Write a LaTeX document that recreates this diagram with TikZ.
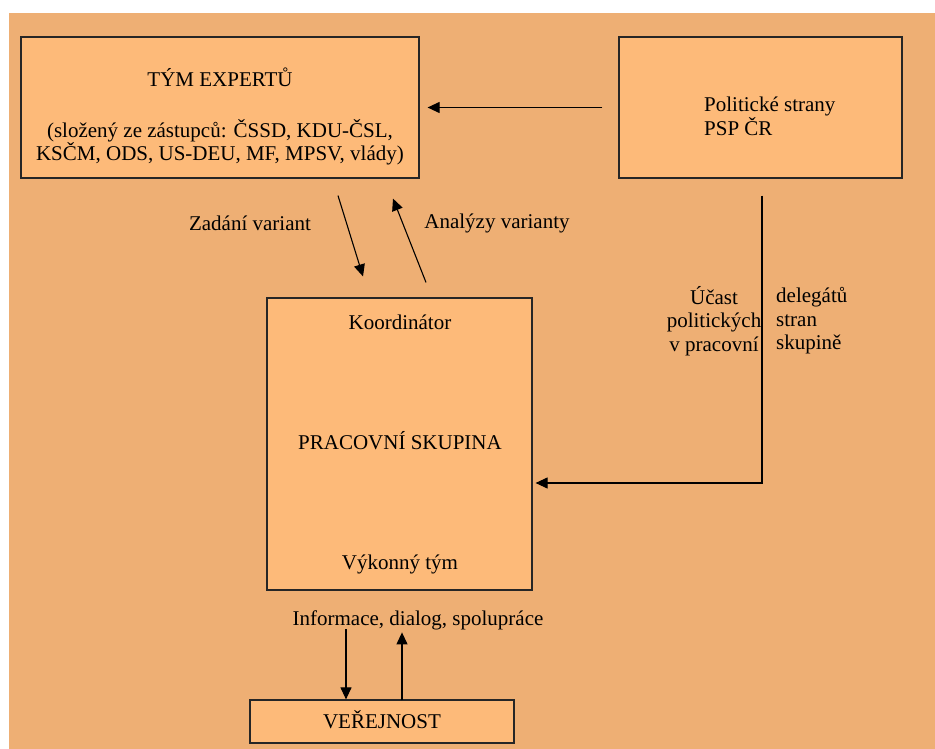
\documentclass[tikz,border=0pt]{standalone}
\usepackage{fontspec}
\setmainfont{Liberation Serif}
\usepackage{tikz}
\usetikzlibrary{positioning,arrows.meta,calc}
\definecolor{bgtan}{RGB}{238,175,116}
\definecolor{boxtan}{RGB}{253,186,121}

\begin{document}
\begin{tikzpicture}[x=1pt,y=-1pt,
    box/.style={draw=black!85, line width=1.2pt, fill=boxtan, inner sep=0pt},
    txt/.style={font=\fontsize{21}{23.5}\selectfont, inner sep=0pt},
    arr/.style={-{Triangle[length=12pt,width=11pt]}, line width=1.1pt}]
    \useasboundingbox (0,0) rectangle (935,749);
    \fill[bgtan] (9,13) rectangle (935,749);

    % boxes
    \node[box, minimum width=398pt, minimum height=141pt] (tym) at (220,107.5) {};
    \node[box, minimum width=283pt, minimum height=141pt] (pol) at (760.5,107.5) {};
    \node[box, minimum width=265pt, minimum height=292pt] (prac) at (399.5,444) {};
    \node[box, minimum width=264pt, minimum height=43pt] (vej) at (382,721.5) {};

    % texts in the boxes
    \node[txt, align=center] (tymtxt) at (220,116.5)
        {TÝM EXPERTŮ\\[27pt](složený ze zástupců: ČSSD, KDU-ČSL,\\KSČM, ODS, US-DEU, MF, MPSV, vlády)};
    \node[txt, align=left, anchor=west] (poltxt) at (704,116.5) {Politické strany\\PSP ČR};
    \foreach \nm/\y/\val in {koord/322/Koordinátor, pracsk/441/PRACOVNÍ SKUPINA, vykon/564/Výkonný tým}
        \node[txt] (\nm) at (400,\y) {\val};
    \node[txt] (vejtxt) at (382,720) {VEŘEJNOST};

    % labels
    \node[txt] (zadani) at (250,223) {Zadání variant};
    \node[txt] (analyzy) at (497,223) {Analýzy varianty};
    \node[txt, align=center] (ucast) at (714,321) {Účast\\politických\\v pracovní};
    \node[txt, align=left, anchor=west] (deleg) at (776,321) {delegátů\\stran\\skupině};
    \node[txt] (info) at (418,620) {Informace, dialog, spolupráce};

    % connectors
    \draw[arr] ([xshift=-16pt]pol.west) -- ([xshift=8pt]tym.east);
    \draw[arr] ([shift={(118,17)}]tym.south) -- ([shift={(-36.5,-21)}]prac.north);
    \draw[arr] ([shift={(26.5,-15)}]prac.north) -- ([shift={(173,20)}]tym.south);
    \draw[arr] ([shift={(1.5,17)}]pol.south) |- ([shift={(3,39)}]prac.east);
    \draw[arr] ([shift={(-36,-70)}]vej.north) -- ([xshift=-36pt]vej.north);
    \draw[arr] ([xshift=20pt,yshift=-1pt]vej.north) -- ([shift={(20,-67)}]vej.north);
\end{tikzpicture}
\end{document}
